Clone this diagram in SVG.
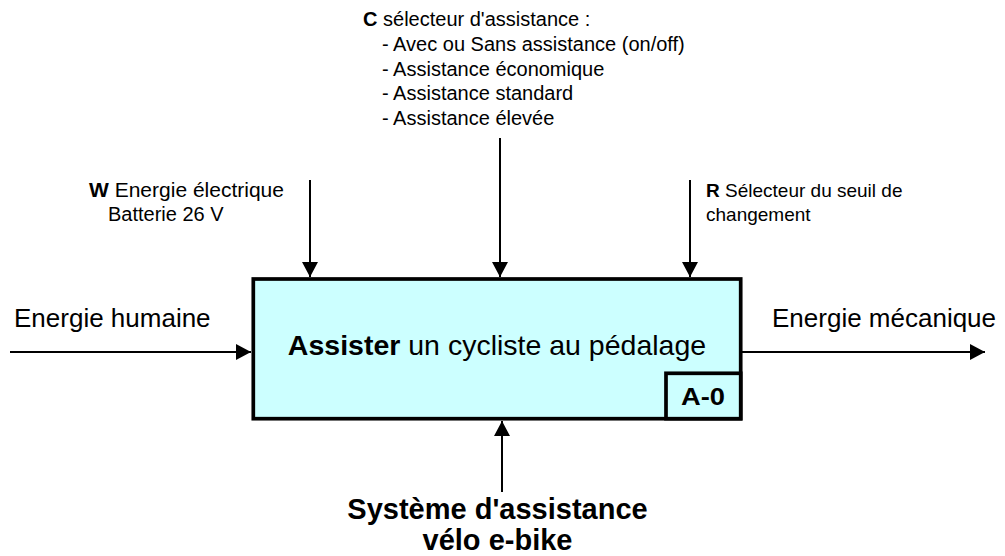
<svg xmlns="http://www.w3.org/2000/svg" width="1005" height="556" viewBox="0 0 1005 556">
  <style>
    text { font-family: "Liberation Sans", Arial, sans-serif; fill: #000; }
    .small { font-size: 20px; }
    .flow { font-size: 26px; }
    .b { font-weight: bold; }
    .box { fill: #CCFFFF; stroke: #000; stroke-width: 3.7; }
    .arrow { fill: none; stroke: #000; stroke-width: 2; marker-end: url(#head); }
  </style>
  <defs>
    <marker id="head" viewBox="0 0 15 16" refX="15" refY="8" markerWidth="15" markerHeight="16" markerUnits="userSpaceOnUse" orient="auto">
      <path d="M0,0 L15,8 L0,16 Z" fill="#000"/>
    </marker>
  </defs>

  <!-- connectors: input, controls, output, mechanism -->
  <g id="connectors">
    <line class="arrow" x1="10" y1="352" x2="251" y2="352"/>
    <line class="arrow" x1="310" y1="180" x2="310" y2="277"/>
    <line class="arrow" x1="500" y1="138" x2="500" y2="277"/>
    <line class="arrow" x1="690" y1="180" x2="690" y2="277"/>
    <line class="arrow" x1="742" y1="352" x2="985" y2="352"/>
    <line class="arrow" x1="502" y1="492" x2="502" y2="421"/>
  </g>

  <!-- activity box A-0 -->
  <g id="activity">
    <rect class="box" x="253.3" y="279" width="487.4" height="139.7"/>
    <text x="497" y="355" font-size="28.5" text-anchor="middle"><tspan class="b">Assister</tspan> un cycliste au pédalage</text>
    <rect class="box" x="666" y="373.3" width="74.7" height="45.4"/>
    <text class="b" x="703" y="405" font-size="24" text-anchor="middle" textLength="44" lengthAdjust="spacingAndGlyphs">A-0</text>
  </g>

  <!-- input label -->
  <g id="input-label">
    <text class="flow" x="14" y="327">Energie humaine</text>
  </g>

  <!-- output label -->
  <g id="output-label">
    <text class="flow" x="772" y="327">Energie mécanique</text>
  </g>

  <!-- control W -->
  <g id="control-w">
    <text class="small" x="89" y="197" textLength="195" lengthAdjust="spacingAndGlyphs"><tspan class="b">W</tspan> Energie électrique</text>
    <text class="small" x="108" y="221">Batterie 26 V</text>
  </g>

  <!-- control C -->
  <g id="control-c">
    <text class="small" x="363" y="26"><tspan class="b">C</tspan> sélecteur d'assistance :</text>
    <text class="small" x="382" y="51">- Avec ou Sans assistance (on/off)</text>
    <text class="small" x="382" y="76">- Assistance économique</text>
    <text class="small" x="382" y="100">- Assistance standard</text>
    <text class="small" x="382" y="125">- Assistance élevée</text>
  </g>

  <!-- control R -->
  <g id="control-r">
    <text class="small" x="706" y="197" font-size="19" style="font-size:19px"><tspan class="b">R</tspan> Sélecteur du seuil de</text>
    <text class="small" x="706" y="221" style="font-size:19px">changement</text>
  </g>

  <!-- mechanism -->
  <g id="mechanism">
    <text class="b" x="497.5" y="519" font-size="29" text-anchor="middle">Système d'assistance</text>
    <text class="b" x="497.5" y="550" font-size="29" text-anchor="middle">vélo e-bike</text>
  </g>
</svg>
